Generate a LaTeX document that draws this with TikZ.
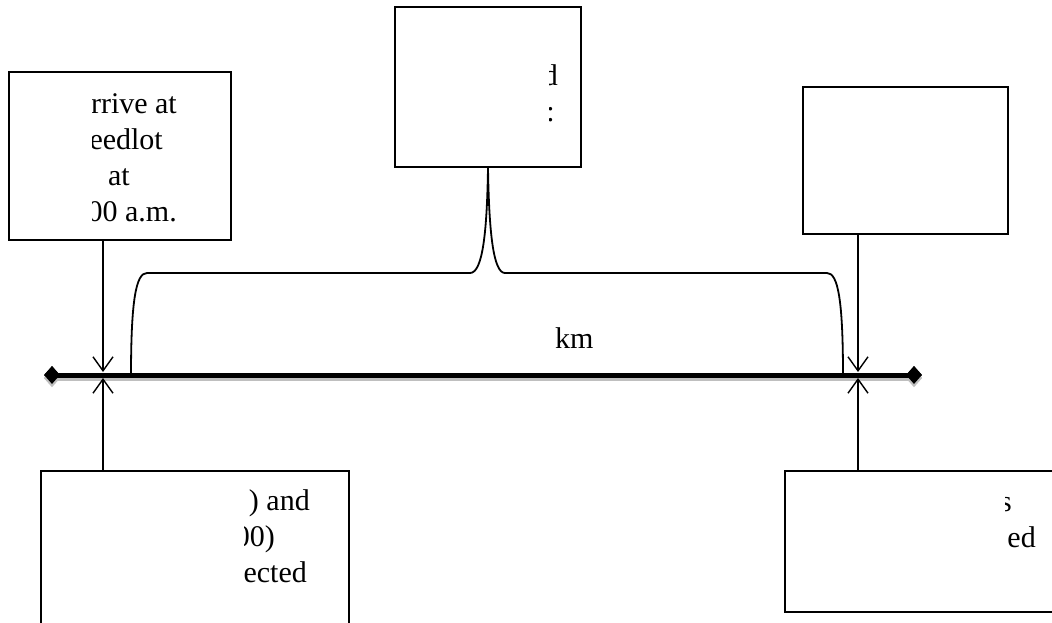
\documentclass[tikz,border=0pt]{standalone}
\usepackage{fontspec}
\setmainfont{Liberation Serif}
\usetikzlibrary{arrows.meta,shapes.geometric}
\begin{document}
\begin{tikzpicture}[x=1pt,y=-1pt,
  box/.style={draw, line width=1.8pt, inner sep=0pt, fill=white},
  txt/.style={font=\fontsize{30}{36}\selectfont, inner sep=0pt, anchor=base east},
  conn/.style={line width=1.4pt, -{Straight Barb[length=14pt,width=20pt,line width=1.4pt]}},
  endpt/.style={diamond, fill=black, minimum width=16pt, minimum height=18pt, inner sep=0pt},
  brace/.style={line width=1.8pt, line join=round}]
\useasboundingbox (0,0) rectangle (1052,622);
% boxes
\node[box, minimum width=222pt, minimum height=168pt] (TL) at (120,156) {};
\node[box, minimum width=186pt, minimum height=160pt] (TM) at (488,87) {};
\node[box, minimum width=205pt, minimum height=147pt] (TR) at (905.5,160.5) {};
\node[box, minimum width=308pt, minimum height=170pt] (BL) at (195,556) {};
\node[box, minimum width=300pt, minimum height=141pt] (BR) at (935,541.5) {};
% main line
\node[endpt] (Lend) at (52,375) {};
\node[endpt] (Rend) at (914,375) {};
\begin{scope}[transform canvas={yshift=-3pt}]
  \draw[gray!50, line width=5pt] (Lend.center) -- (Rend.center);
  \fill[gray!50] (Lend.north) -- (Lend.east) -- (Lend.south) -- (Lend.west) -- cycle;
  \fill[gray!50] (Rend.north) -- (Rend.east) -- (Rend.south) -- (Rend.west) -- cycle;
\end{scope}
\draw[line width=5pt] (Lend.center) -- (Rend.center);
\node[endpt] at (Lend.center) {};
\node[endpt] at (Rend.center) {};
% arrow targets
\coordinate (aLt) at (103,372);
\coordinate (aLb) at (103,378);
\coordinate (aRt) at (858,372);
\coordinate (aRb) at (858,378);
\draw[conn] (TL.south -| aLt) -- (aLt);
\draw[conn] (BL.north -| aLb) -- (aLb);
\draw[conn] (TR.south -| aRt) -- (aRt);
\draw[conn] (BR.north -| aRb) -- (aRb);
% brace
\coordinate (bL) at (131,376);
\coordinate (bR) at (843,376);
\draw[brace] (bL) .. controls (131,300) and (136,273) .. (147,273) -- (470,273)
  .. controls (483,273) and (487,230) .. (TM.south)
  .. controls (489,230) and (493,273) .. (505,273) -- (827,273)
  .. controls (838,273) and (843,300) .. (bR);
% km label
\node[font=\fontsize{30}{36}\selectfont, inner sep=0pt, anchor=base west] (km) at (555,348) {km};
% clipped texts
\begin{scope}
  \clip (92,75) rectangle (229,238);
  \node[txt] (tl1) at (177,113) {rrive at};
  \node[txt] (tl2) at (163,149) {eedlot};
  \node[txt] (tl3) at (130,185) {at};
  \node[txt] (tl4) at (177,221) {00 a.m.};
\end{scope}
\begin{scope}
  \clip (549,9) rectangle (579,165);
  \node[txt] (tm1) at (558,85) {d};
  \node[txt] (tm2) at (555,121) {:};
\end{scope}
\begin{scope}
  \clip (244,473) rectangle (347,622);
  \node[txt] (bl1) at (310,510) {) and};
  \node[txt] (bl2) at (275,546) {00)};
  \node[txt] (bl3) at (307,582) {ected};
\end{scope}
\begin{scope}
  \clip (1005,473) rectangle (1052,610);
  \node[txt] (br1) at (1012,511) {s};
  \node[txt] (br2) at (1036,547) {ed};
\end{scope}
\end{tikzpicture}
\end{document}
